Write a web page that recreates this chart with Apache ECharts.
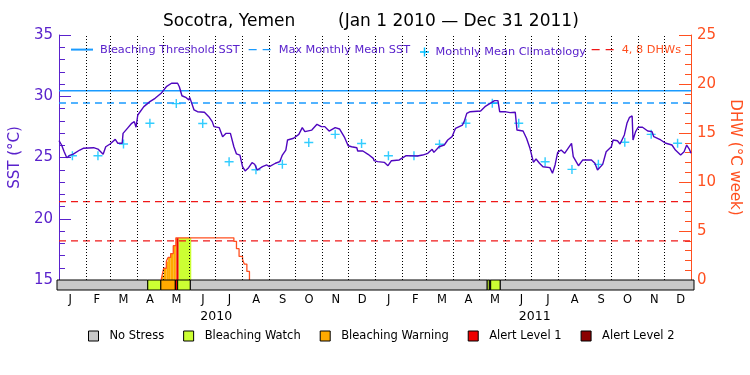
<!DOCTYPE html>
<html><head><meta charset="utf-8">
<script src="https://cdn.jsdelivr.net/npm/echarts@6/dist/echarts.min.js"></script>
<style>html,body{margin:0;padding:0;background:#fff}#c{width:750px;height:375px}</style>
</head><body><div id="c"></div>
<script>
// ---- data ----
const dayMin = 0, dayMax = 730; // days since Jan 1 2010
const monthLabels = ['J','F','M','A','M','J','J','A','S','O','N','D','J','F','M','A','M','J','J','A','S','O','N','D'];
const yearLabels = ['2010','2011'];
const monthStarts = [31,59,90,120,151,181,212,243,273,304,334,365,396,424,455,485,516,546,577,608,638,669,699];

const sstDays = [0,3,6,9,13,16,24,28,40,45,47,51,54,59,65,68,73,74,79,84,87,89,91,98,105,111,118,124,130,137,139,142,147,150,151,153,156,160,168,173,177,179,185,187,189,193,198,202,205,209,212,215,219,223,226,229,235,240,243,250,255,258,262,264,271,277,281,284,292,298,303,307,312,319,324,330,334,338,344,345,351,357,363,364,368,376,380,384,393,401,414,420,426,431,433,439,445,449,454,458,466,468,471,475,487,492,498,503,507,509,515,521,527,529,536,540,544,548,551,555,559,567,570,573,576,580,584,588,592,594,600,605,615,619,622,628,632,638,640,645,648,653,656,659,662,663,666,669,674,680,685,687,695,701,708,712,718,722,725,728,730];
const sstValues = [26.37,26.02,25.47,24.98,25.2,25.26,25.61,25.75,25.8,25.69,25.53,25.26,25.88,26.1,26.48,26.16,26.16,26.97,27.38,27.79,27.93,27.47,28.47,29.15,29.56,29.83,30.24,30.78,31.06,31.06,30.78,30.04,29.88,29.69,29.91,29.78,28.88,28.74,28.69,28.33,27.93,27.52,27.44,27.38,26.7,26.97,26.97,25.88,25.29,25.2,24.25,23.9,24.17,24.58,24.45,23.98,24.25,24.39,24.25,24.53,24.66,25.2,25.61,26.43,26.57,26.89,27.44,27.11,27.24,27.71,27.52,27.52,27.16,27.44,27.33,26.62,25.96,25.88,25.8,25.53,25.53,25.26,24.93,24.74,24.66,24.6,24.33,24.74,24.8,25.15,25.12,25.2,25.34,25.67,25.42,25.88,26.02,26.43,26.7,27.38,27.65,27.93,28.6,28.74,28.8,29.15,29.42,29.64,29.64,28.74,28.74,28.66,28.69,27.24,27.16,26.57,25.75,24.6,24.88,24.53,24.25,24.17,23.71,24.39,25.42,25.61,25.34,25.75,26.16,25.07,24.33,24.8,24.8,24.53,23.98,24.44,25.47,25.88,26.43,26.37,26.1,26.84,27.79,28.28,28.39,26.43,27.11,27.47,27.47,27.16,27.11,26.7,26.43,26.16,26.02,25.61,25.2,25.47,26.02,25.69,25.34];

const climDays = [15.5,45,74.5,105,135.5,166,196.5,227.5,258,288.5,319,349.5,380.5,410,439.5,470,500.5,531,561.5,592.5,623,653.5,684,714.5];
const climValues = [25.15,25.15,26.1,27.8,29.4,27.78,24.66,24.0,24.44,26.22,26.89,26.14,25.15,25.15,26.08,27.79,29.42,27.79,24.66,24.03,24.44,26.24,26.89,26.16];

const bleachingThreshold = 30.45;
const maxMonthlyMean = 29.45;
const dhwLevels = [4, 8];

const dhwDays = [118,119,121,124,126,129,132,135,202,205,208,212,214,217,220];
const dhwValues = [0,0.45,1.2,1.9,2.3,2.7,3.5,4.3,3.95,3.2,2.41,2.1,1.63,0.88,0];

const stressStart = [0,104,119,135.6,138.3,152.8,493,495.5,497,508];
const stressEnd   = [104,119,135.6,138.3,152.8,493,495.5,497,508,730];
const stressLevel = [0,1,2,3,1,0,1,0,1,0];
const stressNames = ['No Stress','Bleaching Watch','Bleaching Warning','Alert Level 1','Alert Level 2'];
const stressColors = ['#c8c8c8','#ccff33','#ffaa00','#ee0000','#8b0000'];

// ---- styles ----
const FONT = 'DejaVu Sans';
const PURPLE = '#5a22cc';
const SSTLINE = '#4f06bf';
const ORANGE = '#ff5020';
const BLUE = '#1a9bff';
const CYAN = '#00c0ff';
const DHWRED = '#f01818';
const PLUS = 'path://M4.2,0H5.8V10H4.2ZM0,4.2H10V5.8H0Z';

// derived
const sstData = sstDays.map((d, i) => [d, sstValues[i]]);
const climData = climDays.map((d, i) => [d, climValues[i]]);
const dhwData = dhwDays.map((d, i) => [d, dhwValues[i]]);
const stressData = stressStart.map((s, i) => [s, stressEnd[i], stressLevel[i]]);
const fillRects = [];
for (let i = 0; i < dhwDays.length - 1; i++) {
  const a = dhwDays[i], b = dhwDays[i + 1], v = dhwValues[i];
  if (v <= 0) continue;
  for (let k = 0; k < stressLevel.length; k++) {
    if (stressLevel[k] === 0) continue;
    const s = Math.max(a, stressStart[k]), e = Math.min(b, stressEnd[k]);
    if (e > s) fillRects.push([s, e, v, stressLevel[k]]);
  }
}

const chart = echarts.init(document.getElementById('c'), null, {renderer: 'canvas'});
const series = [
  { name: 'grid', type: 'line', xAxisIndex: 0, yAxisIndex: 0, data: [], silent: true, z: 1,
    markLine: { silent: true, symbol: 'none', animation: false, label: {show: false},
      lineStyle: {color: '#000', type: [1, 2], width: 1},
      data: monthStarts.map(d => ({xAxis: d})) } },
  { name: 'dhwfill', type: 'custom', xAxisIndex: 0, yAxisIndex: 1, z: 2, silent: true,
    data: fillRects, encode: {x: [0, 1], y: 2},
    renderItem: (params, api) => {
      const p0 = api.coord([api.value(0), api.value(2)]);
      const p1 = api.coord([api.value(1), 0]);
      return {type: 'rect', shape: {x: p0[0], y: p0[1], width: p1[0] - p0[0], height: p1[1] - p0[1]},
        style: {fill: stressColors[api.value(3)]}};
    } },
  { name: 'Bleaching Threshold SST', type: 'line', xAxisIndex: 0, yAxisIndex: 0, z: 3, symbol: 'none',
    data: [[dayMin, bleachingThreshold], [dayMax, bleachingThreshold]],
    lineStyle: {color: BLUE, width: 1.3}, itemStyle: {color: BLUE} },
  { name: 'Max Monthly Mean SST', type: 'line', xAxisIndex: 0, yAxisIndex: 0, z: 3, symbol: 'none',
    data: [[dayMin, maxMonthlyMean], [dayMax, maxMonthlyMean]],
    lineStyle: {color: BLUE, width: 1.3, type: [7, 5]}, itemStyle: {color: BLUE} },
  ...dhwLevels.map(v => ({ name: '4, 8 DHWs', type: 'line', xAxisIndex: 0, yAxisIndex: 1, z: 3, symbol: 'none',
    data: [[dayMin, v], [dayMax, v]],
    lineStyle: {color: DHWRED, width: 1.3, type: [7, 5]}, itemStyle: {color: DHWRED} })),
  { name: 'DHW', type: 'line', xAxisIndex: 0, yAxisIndex: 1, z: 4, symbol: 'none', step: 'end',
    data: dhwData, lineStyle: {color: ORANGE, width: 1.3} },
  { name: 'Monthly Mean Climatology', type: 'scatter', xAxisIndex: 0, yAxisIndex: 0, z: 5,
    symbol: PLUS, symbolSize: 9, data: climData, itemStyle: {color: CYAN} },
  { name: 'SST', type: 'line', xAxisIndex: 0, yAxisIndex: 0, z: 6, symbol: 'none',
    data: sstData, lineStyle: {color: SSTLINE, width: 1.4} },
  { name: 'stress', type: 'custom', xAxisIndex: 1, yAxisIndex: 2, z: 7, silent: true,
    data: stressData, encode: {x: [0, 1]},
    renderItem: (params, api) => {
      const p0 = api.coord([api.value(0), 1]);
      const p1 = api.coord([api.value(1), 0]);
      return {type: 'rect', shape: {x: p0[0], y: p0[1], width: p1[0] - p0[0], height: p1[1] - p0[1]},
        style: {fill: stressColors[api.value(2)], stroke: '#000', lineWidth: 1}};
    } },
  ...stressNames.map((n, i) => ({ name: n, type: 'custom', xAxisIndex: 1, yAxisIndex: 2, data: [],
    renderItem: () => null, itemStyle: {color: stressColors[i]} }))
];

const topLegend = (name, left, width, height, pad, color, extra) => Object.assign({
  show: true, left: left, top: 51 - height / 2, padding: 0, itemWidth: width, itemHeight: height,
  selectedMode: false, data: [name], itemStyle: {opacity: 0},
  textStyle: {fontFamily: FONT, fontSize: 11.3, color: color, padding: [0, 0, 0, pad]}
}, extra || {});

chart.setOption({
  animation: false,
  textStyle: {fontFamily: FONT},
  title: [
    {text: 'Socotra, Yemen', left: 163, top: 13, padding: 0,
     textStyle: {fontFamily: FONT, fontSize: 17, fontWeight: 'normal', color: '#000'}},
    {text: '(Jan 1 2010 \u2014 Dec 31 2011)', left: 338, top: 13, padding: 0,
     textStyle: {fontFamily: FONT, fontSize: 17, fontWeight: 'normal', color: '#000'}}
  ],
  legend: [
    topLegend('Bleaching Threshold SST', 70, 22, 14, 2, PURPLE),
    topLegend('Max Monthly Mean SST', 248, 24, 14, 1, PURPLE,
      {lineStyle: {type: [8, 6], width: 1.3, color: BLUE}}),
    topLegend('Monthly Mean Climatology', 420, 9, 9, 1.5, PURPLE, {icon: PLUS, itemStyle: {opacity: 1}}),
    topLegend('4, 8 DHWs', 591, 25, 14, 0, ORANGE,
      {lineStyle: {type: [8, 6], width: 1.3, color: DHWRED}}),
    { show: true, left: 88, top: 330, padding: 0, itemWidth: 10, itemHeight: 10, itemGap: 19,
      selectedMode: false, icon: 'rect',
      textStyle: {fontFamily: FONT, fontSize: 11.5, color: '#000', padding: [0, 0, 0, 6]},
      data: stressNames.map((n, i) => ({name: n, icon: 'rect',
        itemStyle: {color: stressColors[i], borderColor: '#000', borderWidth: 1}})) }
  ],
  grid: [
    {left: 57, right: 56, top: 35, height: 245, containLabel: false},
    {left: 57, right: 56, top: 280, height: 10, containLabel: false}
  ],
  xAxis: [
    {gridIndex: 0, type: 'value', min: dayMin, max: dayMax, position: 'top',
     axisLine: {show: true, lineStyle: {color: '#000', width: 1}},
     axisTick: {show: false}, axisLabel: {show: false}, splitLine: {show: false}},
    {gridIndex: 1, type: 'value', min: dayMin, max: dayMax, show: false},
    {gridIndex: 1, type: 'category', data: monthLabels, position: 'bottom', boundaryGap: true,
     axisLine: {show: false}, axisTick: {show: false}, splitLine: {show: false},
     axisLabel: {margin: 4, fontSize: 11.5, color: '#000', fontFamily: FONT, interval: 0}},
    {gridIndex: 1, type: 'category', data: yearLabels, position: 'bottom', boundaryGap: true,
     axisLine: {show: false}, axisTick: {show: false}, splitLine: {show: false},
     axisLabel: {margin: 20, fontSize: 12.5, color: '#000', fontFamily: FONT, interval: 0}}
  ],
  yAxis: [
    {gridIndex: 0, type: 'value', min: 15, max: 35, interval: 5, position: 'left',
     name: 'SST (\u00b0C)', nameLocation: 'middle', nameGap: 30,
     nameTextStyle: {color: PURPLE, fontSize: 15, fontFamily: FONT},
     axisLine: {show: true, lineStyle: {color: PURPLE, width: 1}},
     axisTick: {show: true, inside: true, length: 12, lineStyle: {color: PURPLE}},
     minorTick: {show: true, splitNumber: 5, length: 6, lineStyle: {color: PURPLE}},
     axisLabel: {color: PURPLE, fontSize: 15, margin: 6, fontFamily: FONT},
     splitLine: {show: false}, minorSplitLine: {show: false}},
    {gridIndex: 0, type: 'value', min: 0, max: 25, interval: 5, position: 'right',
     name: 'DHW (\u00b0C week)', nameLocation: 'middle', nameGap: 30, nameRotate: -90,
     nameTextStyle: {color: ORANGE, fontSize: 15, fontFamily: FONT},
     axisLine: {show: true, lineStyle: {color: ORANGE, width: 1}},
     axisTick: {show: true, inside: true, length: 12, lineStyle: {color: ORANGE}},
     minorTick: {show: true, splitNumber: 5, length: 6, lineStyle: {color: ORANGE}},
     axisLabel: {color: ORANGE, fontSize: 15, margin: 6, fontFamily: FONT},
     splitLine: {show: false}, minorSplitLine: {show: false}},
    {gridIndex: 1, type: 'value', min: 0, max: 1, show: false}
  ],
  series: series
});
</script></body></html>
